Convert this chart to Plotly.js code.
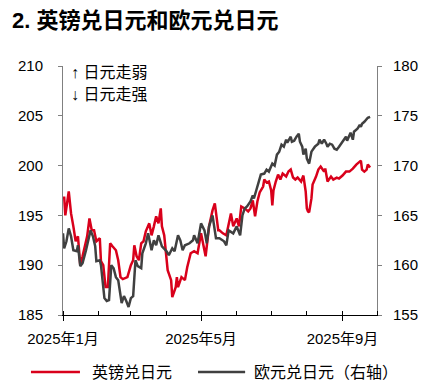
<!DOCTYPE html>
<html>
<head>
<meta charset="utf-8">
<script src="https://cdn.plot.ly/plotly-3.0.1.min.js"></script>
<style>html,body{margin:0;padding:0;background:#fff;}#chart{width:427px;height:386px;}</style>
</head>
<body>
<div id="chart"></div>
<script>
const gbpDates = ["2025-01-02","2025-01-03","2025-01-06","2025-01-08","2025-01-10","2025-01-12","2025-01-14","2025-01-16","2025-01-18","2025-01-20","2025-01-22","2025-01-24","2025-01-26","2025-01-28","2025-01-30",
"2025-02-02","2025-02-03","2025-02-05","2025-02-07","2025-02-09","2025-02-11","2025-02-13","2025-02-16","2025-02-18","2025-02-20","2025-02-22","2025-02-26",
"2025-03-01","2025-03-03","2025-03-04","2025-03-06","2025-03-08","2025-03-10","2025-03-12","2025-03-14","2025-03-17","2025-03-19","2025-03-21","2025-03-23","2025-03-25","2025-03-27","2025-03-28","2025-03-30",
"2025-04-02","2025-04-05","2025-04-06","2025-04-09","2025-04-10","2025-04-11","2025-04-14","2025-04-17","2025-04-19","2025-04-22","2025-04-25","2025-04-28",
"2025-05-01","2025-05-05","2025-05-08","2025-05-11","2025-05-13","2025-05-16","2025-05-17","2025-05-20","2025-05-23","2025-05-26","2025-05-27","2025-05-29",
"2025-06-01","2025-06-03","2025-06-05","2025-06-08","2025-06-11","2025-06-13","2025-06-15","2025-06-17","2025-06-19","2025-06-21","2025-06-24","2025-06-25","2025-06-27","2025-06-29",
"2025-07-01","2025-07-02","2025-07-03","2025-07-05","2025-07-07","2025-07-09","2025-07-11","2025-07-14","2025-07-16","2025-07-18","2025-07-20","2025-07-22","2025-07-24","2025-07-27","2025-07-29","2025-07-31",
"2025-08-01","2025-08-02","2025-08-03","2025-08-05","2025-08-06","2025-08-09","2025-08-11","2025-08-13","2025-08-16","2025-08-17","2025-08-19","2025-08-22","2025-08-24","2025-08-27","2025-08-29",
"2025-09-01","2025-09-04","2025-09-07","2025-09-10","2025-09-13","2025-09-16","2025-09-17","2025-09-18","2025-09-20","2025-09-22","2025-09-23","2025-09-25"];
const gbpJpy = [196.9,195.0,197.4,195.2,193.9,192.4,192.9,190.0,190.9,191.9,192.9,194.7,193.5,193.5,192.4,
192.7,190.4,190.0,187.8,187.8,192.2,191.9,191.5,190.5,188.8,188.6,188.8,
190.0,190.5,192.0,190.9,190.5,192.2,192.4,193.4,194.2,193.0,193.9,194.9,194.2,195.7,193.9,193.0,
189.5,188.5,186.8,187.8,188.8,187.8,188.8,188.5,189.8,191.2,191.4,191.2,
193.2,190.9,193.9,195.5,196.2,193.5,193.5,193.2,193.0,194.5,195.2,193.9,
194.7,193.9,195.9,195.7,195.4,195.7,196.5,194.9,196.4,197.3,197.9,198.6,198.3,198.4,
197.5,196.0,197.5,198.4,199.1,198.6,199.2,198.9,199.4,199.6,198.8,198.6,198.8,198.4,199.0,197.4,
195.7,195.4,195.3,196.7,198.1,198.9,199.6,199.9,199.4,199.7,198.4,198.9,198.6,198.8,198.7,
199.0,199.4,199.4,199.7,200.1,200.4,200.5,199.6,199.4,199.6,200.1,199.8];

const eurDates = ["2025-01-01","2025-01-02","2025-01-04","2025-01-06","2025-01-08","2025-01-10","2025-01-13","2025-01-14","2025-01-16","2025-01-18","2025-01-21","2025-01-23","2025-01-25","2025-01-27","2025-01-29","2025-01-30",
"2025-02-02","2025-02-03","2025-02-06","2025-02-08","2025-02-10","2025-02-12","2025-02-14","2025-02-16","2025-02-18","2025-02-21","2025-02-23","2025-02-25","2025-02-27",
"2025-03-01","2025-03-03","2025-03-05","2025-03-07","2025-03-10","2025-03-11","2025-03-14","2025-03-16","2025-03-19","2025-03-21","2025-03-23","2025-03-25","2025-03-28",
"2025-04-01","2025-04-03","2025-04-06","2025-04-08","2025-04-11","2025-04-13","2025-04-15","2025-04-17","2025-04-21","2025-04-24","2025-04-25","2025-04-28",
"2025-05-01","2025-05-04","2025-05-06","2025-05-08","2025-05-11","2025-05-14","2025-05-17","2025-05-21","2025-05-23","2025-05-25","2025-05-29",
"2025-06-01","2025-06-04","2025-06-06","2025-06-08","2025-06-10","2025-06-13","2025-06-15","2025-06-16","2025-06-18","2025-06-20","2025-06-22","2025-06-25","2025-06-27","2025-06-29",
"2025-07-02","2025-07-04","2025-07-06","2025-07-08","2025-07-10","2025-07-12","2025-07-14","2025-07-15","2025-07-18","2025-07-19","2025-07-21","2025-07-23","2025-07-25","2025-07-26","2025-07-28","2025-07-29","2025-07-31",
"2025-08-01","2025-08-02","2025-08-03","2025-08-05","2025-08-08","2025-08-11","2025-08-12","2025-08-14","2025-08-16","2025-08-18","2025-08-19","2025-08-21","2025-08-23","2025-08-25","2025-08-27","2025-08-29",
"2025-09-01","2025-09-03","2025-09-04","2025-09-05","2025-09-07","2025-09-08","2025-09-10","2025-09-11","2025-09-14","2025-09-16","2025-09-17","2025-09-18","2025-09-20","2025-09-21","2025-09-23","2025-09-25"];
const eurJpy = [163.2,161.7,162.4,163.7,162.9,161.5,161.4,162.0,159.9,160.2,161.5,162.5,163.5,162.9,161.9,160.4,
160.5,160.0,156.7,156.4,156.5,160.0,159.7,158.8,158.5,156.2,156.9,156.4,155.8,
156.7,156.9,160.5,159.9,159.7,161.2,162.2,163.2,161.5,162.5,162.0,163.0,161.9,
161.4,161.0,161.7,161.4,163.0,162.5,161.5,162.0,162.2,162.5,163.0,162.2,
164.2,163.5,162.2,163.9,165.0,162.7,162.7,162.4,162.0,163.5,163.2,
163.9,163.0,165.0,165.7,165.9,166.4,167.0,166.7,167.5,168.4,169.1,169.2,169.6,169.4,
170.2,170.0,171.1,171.4,172.1,171.9,172.6,172.3,172.9,172.4,172.5,172.9,173.2,172.4,171.9,171.1,171.7,
170.7,170.4,170.2,171.4,171.9,172.2,172.6,172.2,172.6,172.2,171.9,172.2,172.1,171.7,171.6,171.9,
172.4,172.7,172.9,172.5,173.1,173.3,172.6,173.4,173.7,174.1,173.9,174.2,174.4,174.5,174.8,174.9];

const seriesNames = ["英镑兑日元", "欧元兑日元（右轴）"];
const seriesColors = ["#d9001b", "#404040"];
const xTickVals = ["2025-01-01", "2025-05-01", "2025-09-01"];
const xTickText = ["2025年1月", "2025年5月", "2025年9月"];
const monthTicks = ["2025-01-01","2025-02-01","2025-03-01","2025-04-01","2025-05-01","2025-06-01","2025-07-01","2025-08-01","2025-09-01","2025-10-01"];

const FONT = "Liberation Sans, Arial, 'Noto Sans CJK SC', sans-serif";

const traces = [
  {x: gbpDates, y: gbpJpy, name: seriesNames[0], type: "scatter", mode: "lines",
   line: {color: seriesColors[0], width: 2.5}, yaxis: "y"},
  {x: eurDates, y: eurJpy, name: seriesNames[1], type: "scatter", mode: "lines",
   line: {color: seriesColors[1], width: 2.5}, yaxis: "y2"}
];

// custom legend (longer line keys, as in the reference)
const legY = -0.229;
const legendKeys = [
  {x0: -0.102, x1: 0.054, tx: 0.086},
  {x0: 0.430, x1: 0.580, tx: 0.602}
];
const shapes = legendKeys.map((k, i) => ({
  type: "line", xref: "paper", yref: "paper", x0: k.x0, x1: k.x1, y0: legY, y1: legY,
  line: {color: seriesColors[i], width: 2.5}
}));
const legendTexts = legendKeys.map((k, i) => ({
  text: seriesNames[i], xref: "paper", yref: "paper", x: k.tx, y: legY, xanchor: "left", yanchor: "middle",
  showarrow: false, font: {family: FONT, size: 16, color: "#000"}
}));

const layout = {
  width: 427, height: 386,
  margin: {l: 63, r: 50, t: 66, b: 71, autoexpand: false},
  paper_bgcolor: "#fff", plot_bgcolor: "#fff",
  font: {family: FONT, size: 14, color: "#000"},
  title: {text: "<b>2. 英镑兑日元和欧元兑日元</b>", x: 0.028, xref: "container", xanchor: "left",
          y: 0.948, yref: "container", yanchor: "middle",
          font: {family: FONT, size: 22, color: "#000"}},
  showlegend: false,
  xaxis: {type: "date", range: ["2025-01-01", "2025-10-01"],
          tickmode: "array", tickvals: xTickVals, ticktext: xTickText,
          ticks: "outside", ticklen: 5, tickcolor: "#000", tickwidth: 1, ticklabelstandoff: 5,
          minor: {tickmode: "array", tickvals: monthTicks, ticks: "inside", ticklen: 4, tickcolor: "#000", showgrid: false},
          showline: true, linecolor: "#000", linewidth: 1, showgrid: false, zeroline: false,
          tickfont: {family: FONT, size: 15, color: "#000"}},
  yaxis: {range: [185, 210], dtick: 5, tick0: 185, ticks: "outside", ticklen: 4, tickcolor: "#808080",
          ticklabelstandoff: 12,
          showline: true, linecolor: "#808080", linewidth: 1, showgrid: false, zeroline: false,
          tickfont: {family: FONT, size: 15, color: "#000"}},
  yaxis2: {range: [155, 180], dtick: 5, tick0: 155, overlaying: "y", side: "right",
           ticks: "outside", ticklen: 4, tickcolor: "#808080", ticklabelstandoff: 8,
           showline: true, linecolor: "#808080", linewidth: 1, showgrid: false, zeroline: false,
           tickfont: {family: FONT, size: 15, color: "#000"}},
  shapes: shapes,
  annotations: [
    {text: "↑ 日元走弱", xref: "paper", yref: "paper", x: 0.02, y: 0.972, xanchor: "left", yanchor: "middle",
     showarrow: false, font: {family: FONT, size: 16, color: "#000"}},
    {text: "↓ 日元走强", xref: "paper", yref: "paper", x: 0.02, y: 0.884, xanchor: "left", yanchor: "middle",
     showarrow: false, font: {family: FONT, size: 16, color: "#000"}}
  ].concat(legendTexts)
};

Plotly.newPlot("chart", traces, layout, {displayModeBar: false, staticPlot: true});
</script>
</body>
</html>
